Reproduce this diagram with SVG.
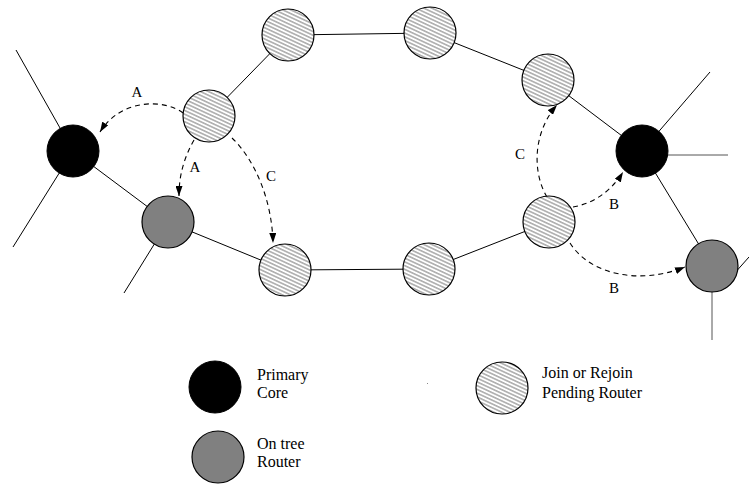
<svg xmlns="http://www.w3.org/2000/svg" width="749" height="485" viewBox="0 0 749 485">
<style>
.ln{stroke:#000;stroke-width:1;fill:none}
.ds{stroke:#000;stroke-width:1.1;fill:none;stroke-dasharray:5,4;marker-end:url(#ah)}
.hatch{fill:url(#hp);stroke:#000;stroke-width:1.2}
.core{fill:#000;stroke:#000;stroke-width:1}
.tree{fill:#808080;stroke:#000;stroke-width:1.2}
.lbl{font-family:"Liberation Serif","Times New Roman",serif;font-size:15px;fill:#000;text-anchor:middle}
.lg{font-family:"Liberation Serif","Times New Roman",serif;font-size:16px;fill:#000}
</style>
<defs>
<pattern id="hp" patternUnits="userSpaceOnUse" width="12" height="3.4" patternTransform="rotate(25)">
<rect width="12" height="3.4" fill="#fff"/>
<line x1="0" y1="1.7" x2="12" y2="1.7" stroke="#333" stroke-width="0.7"/>
</pattern>
<marker id="ah" markerUnits="userSpaceOnUse" markerWidth="10" markerHeight="7" refX="10" refY="3.5" orient="auto">
<path d="M0,0 L10,3.5 L0,7 z" fill="#000"/>
</marker>
</defs>
<rect width="749" height="485" fill="#fff"/>
<g id="connectors">
<line class="ln" x1="16" y1="50" x2="73" y2="151"/>
<line class="ln" x1="13" y1="247" x2="73" y2="151"/>
<line class="ln" x1="73" y1="151" x2="168" y2="222"/>
<line class="ln" x1="124" y1="293" x2="168" y2="222"/>
<line class="ln" x1="168" y1="222" x2="285" y2="270"/>
<line class="ln" x1="285" y1="270" x2="429" y2="269"/>
<line class="ln" x1="429" y1="269" x2="549" y2="222"/>
<line class="ln" x1="209" y1="116" x2="288" y2="35"/>
<line class="ln" x1="288" y1="35" x2="430" y2="33"/>
<line class="ln" x1="430" y1="33" x2="548" y2="80"/>
<line class="ln" x1="548" y1="80" x2="642" y2="151"/>
<line class="ln" x1="642" y1="151" x2="710" y2="72"/>
<line class="ln" x1="660" y1="155" x2="728" y2="155" style="stroke:#555"/>
<line class="ln" x1="642" y1="151" x2="712" y2="266"/>
<line class="ln" x1="712" y1="266" x2="712" y2="340" style="stroke:#555"/>
<line class="ln" x1="733" y1="275" x2="749" y2="257"/>
<path class="ds" d="M183,113 C165,99 121,98 100,132"/>
<path class="ds" d="M194,140 C184,158 179,175 179,196"/>
<path class="ds" d="M232,138 C255,160 272,200 273,243"/>
<path class="ds" d="M547,197 C532,172 533,132 557,105"/>
<path class="ds" d="M573,207 C595,203 612,190 623,172"/>
<path class="ds" d="M570,243 C590,275 640,285 685,267"/>
<text class="lbl" x="137" y="97">A</text>
<text class="lbl" x="195" y="172">A</text>
<text class="lbl" x="271" y="181">C</text>
<text class="lbl" x="520" y="159">C</text>
<text class="lbl" x="614" y="209">B</text>
<text class="lbl" x="614" y="293">B</text>
</g>
<g id="n-hatch1"><circle class="hatch" cx="209" cy="116" r="26"/></g>
<g id="n-hatch2"><circle class="hatch" cx="288" cy="35" r="26"/></g>
<g id="n-hatch3"><circle class="hatch" cx="430" cy="33" r="26"/></g>
<g id="n-hatch4"><circle class="hatch" cx="548" cy="80" r="26"/></g>
<g id="n-hatch5"><circle class="hatch" cx="549" cy="222" r="26"/></g>
<g id="n-hatch6"><circle class="hatch" cx="285" cy="270" r="26"/></g>
<g id="n-hatch7"><circle class="hatch" cx="429" cy="269" r="26"/></g>
<g id="n-core1"><circle class="core" cx="73" cy="151" r="26"/></g>
<g id="n-core2"><circle class="core" cx="642" cy="151" r="26"/></g>
<g id="n-tree1"><circle class="tree" cx="168" cy="222" r="26"/></g>
<g id="n-tree2"><circle class="tree" cx="712" cy="266" r="26"/></g>
<g id="legend-core">
<circle class="core" cx="215" cy="387" r="26"/>
<text class="lg" x="257" y="380">Primary</text>
<text class="lg" x="257" y="398">Core</text>
</g>
<g id="legend-tree">
<circle class="tree" cx="218" cy="457" r="26"/>
<text class="lg" x="257" y="449">On tree</text>
<text class="lg" x="257" y="467">Router</text>
</g>
<g id="legend-pending">
<circle class="hatch" cx="502" cy="388" r="26"/>
<text class="lg" x="542" y="378">Join or Rejoin</text>
<text class="lg" x="542" y="398">Pending Router</text>
</g>
<rect x="427" y="383" width="1" height="1" fill="#888"/>
</svg>
